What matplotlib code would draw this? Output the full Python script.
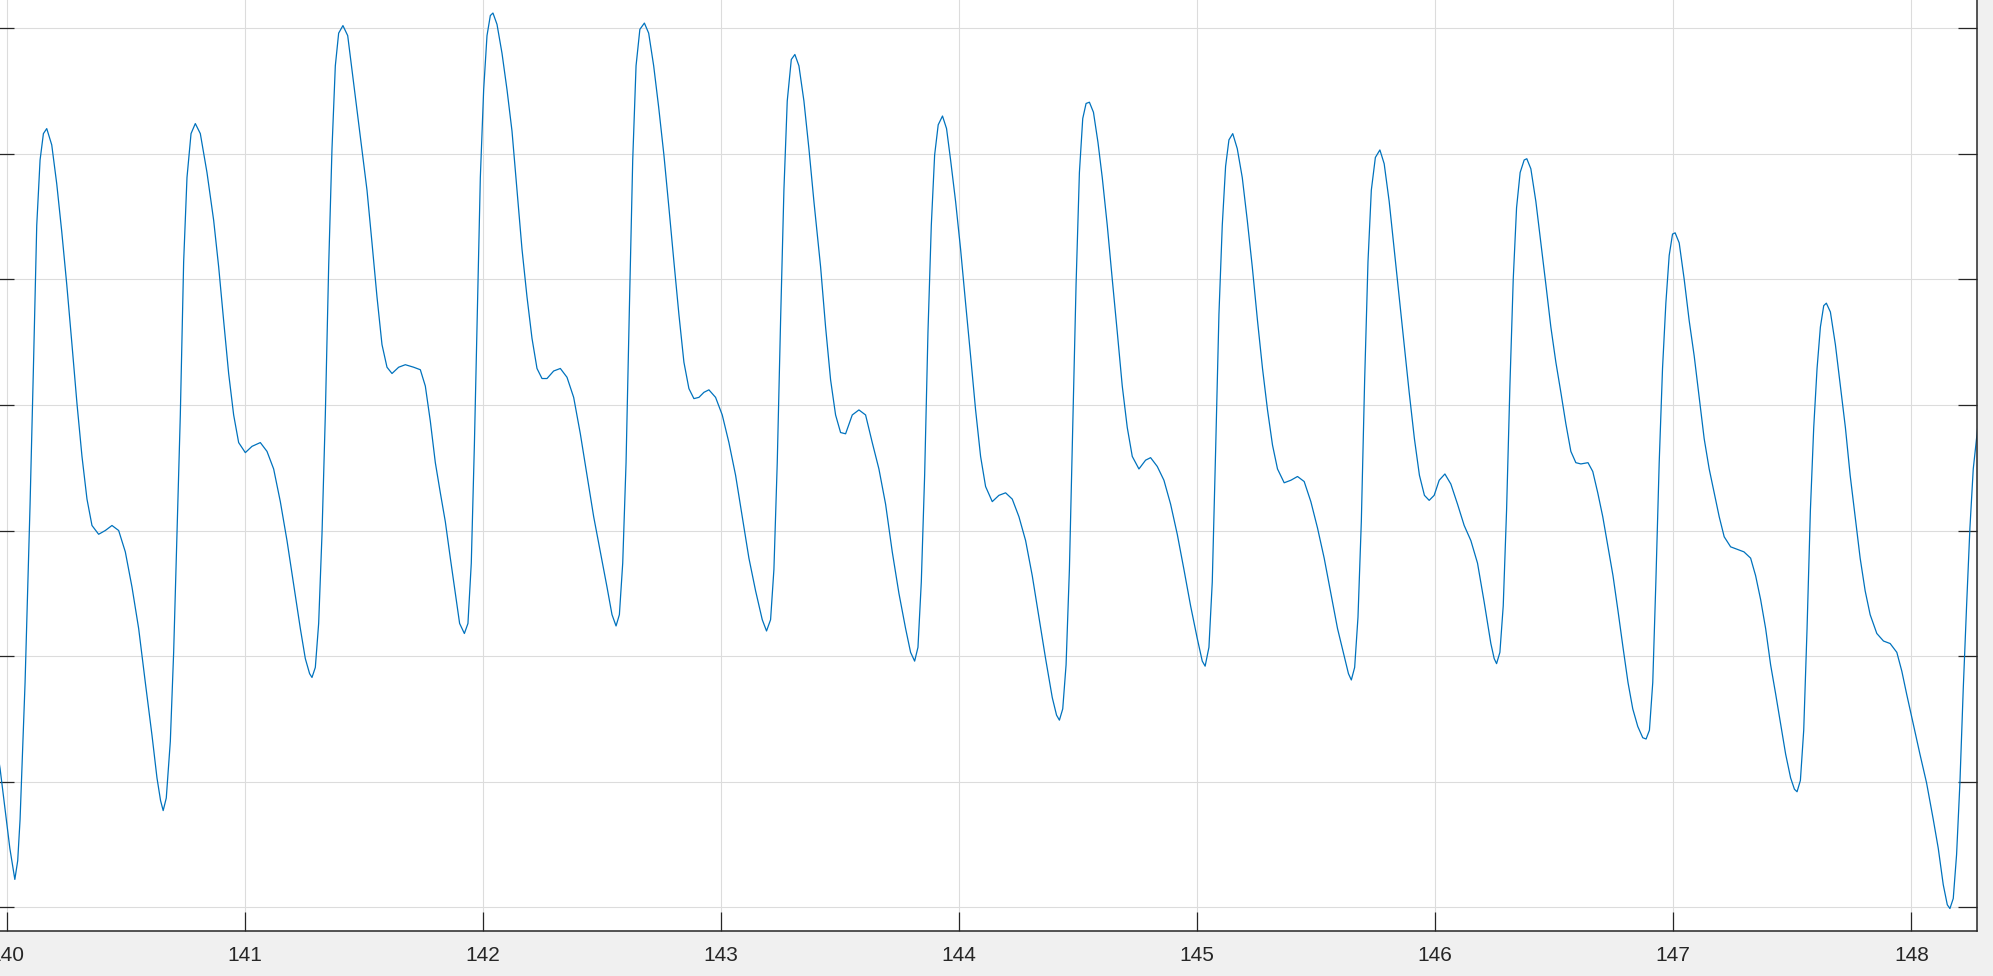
import matplotlib
matplotlib.use("Agg")
import matplotlib.pyplot as plt

# ---- data (time in s, amplitude in grid units) ----
time_s = [
    139.952, 139.973, 140.014, 140.035, 140.047, 140.057, 140.078, 140.099, 140.113, 140.127,
    140.141, 140.155, 140.169, 140.190, 140.211, 140.232, 140.253, 140.275, 140.296, 140.317,
    140.338, 140.359, 140.387, 140.415, 140.443, 140.471, 140.499, 140.527, 140.555, 140.583,
    140.611, 140.632, 140.647, 140.658, 140.671, 140.688, 140.702, 140.716, 140.730, 140.744,
    140.758, 140.775, 140.793, 140.814, 140.842, 140.870, 140.891, 140.912, 140.933, 140.954,
    140.975, 141.003, 141.031, 141.066, 141.094, 141.122, 141.150, 141.178, 141.206, 141.234,
    141.255, 141.273, 141.283, 141.297, 141.311, 141.325, 141.339, 141.353, 141.367, 141.381,
    141.395, 141.413, 141.433, 141.458, 141.486, 141.514, 141.535, 141.556, 141.577, 141.598,
    141.619, 141.647, 141.675, 141.710, 141.738, 141.759, 141.780, 141.801, 141.822, 141.843,
    141.864, 141.885, 141.903, 141.923, 141.938, 141.952, 141.965, 141.976, 141.990, 142.004,
    142.018, 142.032, 142.043, 142.060, 142.081, 142.102, 142.123, 142.144, 142.165, 142.186,
    142.207, 142.228, 142.249, 142.270, 142.298, 142.326, 142.354, 142.382, 142.410, 142.438,
    142.466, 142.494, 142.522, 142.543, 142.560, 142.574, 142.588, 142.602, 142.616, 142.630,
    142.644, 142.660, 142.679, 142.697, 142.718, 142.739, 142.761, 142.782, 142.803, 142.824,
    142.845, 142.866, 142.887, 142.908, 142.929, 142.950, 142.978, 143.006, 143.034, 143.062,
    143.090, 143.118, 143.146, 143.174, 143.192, 143.209, 143.223, 143.237, 143.251, 143.265,
    143.279, 143.296, 143.311, 143.328, 143.349, 143.370, 143.391, 143.419, 143.440, 143.461,
    143.482, 143.503, 143.524, 143.552, 143.580, 143.608, 143.636, 143.664, 143.692, 143.720,
    143.748, 143.776, 143.797, 143.814, 143.828, 143.842, 143.856, 143.870, 143.884, 143.898,
    143.913, 143.931, 143.948, 143.965, 143.986, 144.007, 144.028, 144.049, 144.070, 144.091,
    144.112, 144.140, 144.168, 144.196, 144.224, 144.252, 144.280, 144.308, 144.336, 144.364,
    144.392, 144.410, 144.422, 144.436, 144.450, 144.464, 144.478, 144.492, 144.506, 144.520,
    144.534, 144.548, 144.565, 144.584, 144.602, 144.623, 144.644, 144.665, 144.686, 144.707,
    144.728, 144.756, 144.784, 144.805, 144.833, 144.861, 144.889, 144.917, 144.945, 144.973,
    145.001, 145.022, 145.034, 145.050, 145.064, 145.078, 145.092, 145.106, 145.120, 145.134,
    145.150, 145.169, 145.190, 145.211, 145.232, 145.254, 145.275, 145.296, 145.317, 145.338,
    145.366, 145.394, 145.422, 145.450, 145.478, 145.506, 145.534, 145.562, 145.590, 145.618,
    145.636, 145.648, 145.662, 145.676, 145.690, 145.704, 145.718, 145.732, 145.749, 145.768,
    145.786, 145.807, 145.828, 145.849, 145.870, 145.891, 145.913, 145.934, 145.955, 145.975,
    145.996, 146.017, 146.041, 146.066, 146.094, 146.122, 146.150, 146.178, 146.206, 146.234,
    146.248, 146.258, 146.272, 146.286, 146.300, 146.314, 146.328, 146.342, 146.357, 146.374,
    146.385, 146.402, 146.423, 146.444, 146.465, 146.486, 146.507, 146.528, 146.549, 146.570,
    146.591, 146.612, 146.642, 146.662, 146.683, 146.704, 146.725, 146.747, 146.768, 146.789,
    146.810, 146.830, 146.851, 146.872, 146.886, 146.900, 146.914, 146.927, 146.941, 146.955,
    146.969, 146.983, 146.997, 147.008, 147.025, 147.046, 147.067, 147.088, 147.109, 147.130,
    147.151, 147.172, 147.193, 147.214, 147.241, 147.269, 147.297, 147.325, 147.346, 147.367,
    147.388, 147.409, 147.430, 147.451, 147.472, 147.493, 147.509, 147.520, 147.534, 147.548,
    147.562, 147.576, 147.590, 147.604, 147.618, 147.632, 147.643, 147.660, 147.681, 147.702,
    147.723, 147.743, 147.764, 147.785, 147.806, 147.827, 147.855, 147.883, 147.911, 147.939,
    147.960, 147.980, 148.008, 148.036, 148.064, 148.092, 148.113, 148.134, 148.151, 148.162,
    148.176, 148.190, 148.204, 148.218, 148.232, 148.246, 148.260, 148.276, 148.290,
]

amplitude = [
    1.35, 1.105, 0.47, 0.222, 0.37, 0.70, 1.79, 3.21, 4.29, 5.43,
    5.95, 6.16, 6.20, 6.07, 5.76, 5.38, 4.96, 4.48, 4.01, 3.59,
    3.25, 3.04, 2.97, 3.00, 3.04, 3.00, 2.83, 2.55, 2.22, 1.79,
    1.37, 1.03, 0.85, 0.77, 0.87, 1.32, 2.03, 2.97, 3.92, 5.14,
    5.81, 6.16, 6.24, 6.16, 5.85, 5.47, 5.10, 4.67, 4.25, 3.92,
    3.70, 3.62, 3.67, 3.70, 3.63, 3.49, 3.23, 2.92, 2.57, 2.22,
    1.98, 1.86, 1.83, 1.91, 2.26, 2.97, 3.92, 5.10, 6.04, 6.70,
    6.96, 7.02, 6.94, 6.56, 6.14, 5.71, 5.29, 4.86, 4.48, 4.30,
    4.25, 4.30, 4.32, 4.30, 4.28, 4.15, 3.87, 3.54, 3.30, 3.07,
    2.78, 2.50, 2.26, 2.18, 2.26, 2.74, 3.68, 4.62, 5.81, 6.51,
    6.94, 7.10, 7.12, 7.03, 6.80, 6.51, 6.18, 5.71, 5.24, 4.86,
    4.53, 4.29, 4.21, 4.21, 4.27, 4.29, 4.22, 4.06, 3.77, 3.44,
    3.11, 2.83, 2.55, 2.33, 2.24, 2.33, 2.74, 3.54, 4.77, 5.95,
    6.70, 6.99, 7.04, 6.96, 6.70, 6.37, 5.99, 5.57, 5.14, 4.72,
    4.34, 4.13, 4.05, 4.06, 4.10, 4.12, 4.06, 3.92, 3.70, 3.44,
    3.11, 2.78, 2.52, 2.29, 2.20, 2.29, 2.69, 3.54, 4.67, 5.71,
    6.42, 6.75, 6.79, 6.70, 6.42, 6.04, 5.62, 5.10, 4.62, 4.20,
    3.92, 3.78, 3.77, 3.92, 3.96, 3.92, 3.70, 3.49, 3.21, 2.83,
    2.50, 2.22, 2.03, 1.96, 2.07, 2.59, 3.44, 4.58, 5.43, 5.99,
    6.23, 6.30, 6.20, 5.95, 5.62, 5.24, 4.81, 4.39, 3.96, 3.59,
    3.35, 3.23, 3.28, 3.30, 3.25, 3.11, 2.92, 2.64, 2.31, 1.98,
    1.67, 1.53, 1.49, 1.58, 1.93, 2.69, 3.82, 4.96, 5.85, 6.28,
    6.40, 6.41, 6.33, 6.09, 5.81, 5.43, 5.00, 4.58, 4.15, 3.82,
    3.59, 3.49, 3.56, 3.58, 3.51, 3.40, 3.21, 2.97, 2.69, 2.40,
    2.14, 1.96, 1.92, 2.07, 2.59, 3.63, 4.72, 5.43, 5.90, 6.11,
    6.16, 6.04, 5.81, 5.47, 5.10, 4.67, 4.29, 3.96, 3.68, 3.49,
    3.38, 3.40, 3.43, 3.39, 3.23, 3.02, 2.78, 2.50, 2.22, 2.00,
    1.86, 1.81, 1.91, 2.31, 3.07, 4.20, 5.14, 5.71, 5.97, 6.03,
    5.92, 5.62, 5.24, 4.86, 4.48, 4.10, 3.73, 3.44, 3.28, 3.24,
    3.28, 3.40, 3.45, 3.37, 3.21, 3.04, 2.92, 2.74, 2.43, 2.10,
    1.98, 1.94, 2.03, 2.40, 3.16, 4.15, 5.00, 5.57, 5.85, 5.95,
    5.96, 5.88, 5.62, 5.29, 4.96, 4.62, 4.34, 4.10, 3.85, 3.63,
    3.54, 3.53, 3.54, 3.47, 3.30, 3.11, 2.88, 2.64, 2.36, 2.07,
    1.79, 1.58, 1.44, 1.35, 1.34, 1.41, 1.79, 2.59, 3.54, 4.29,
    4.81, 5.19, 5.36, 5.37, 5.29, 5.00, 4.67, 4.39, 4.06, 3.73,
    3.49, 3.30, 3.11, 2.95, 2.87, 2.85, 2.83, 2.78, 2.64, 2.45,
    2.22, 1.93, 1.70, 1.46, 1.22, 1.03, 0.94, 0.92, 1.01, 1.41,
    2.22, 3.16, 3.82, 4.29, 4.62, 4.79, 4.81, 4.74, 4.48, 4.15,
    3.82, 3.44, 3.11, 2.78, 2.52, 2.33, 2.18, 2.12, 2.10, 2.03,
    1.88, 1.70, 1.46, 1.22, 0.99, 0.70, 0.47, 0.18, 0.02, -0.01,
    0.07, 0.42, 0.99, 1.74, 2.40, 3.02, 3.49, 3.77, 4.05,
]

x_ticks = [140, 141, 142, 143, 144, 145, 146, 147, 148]
x_tick_labels = ["140", "141", "142", "143", "144", "145", "146", "147", "148"]
y_ticks = [0, 1, 2, 3, 4, 5, 6, 7]

# ---- figure ----
W, H, DPI = 1993, 976, 100
fig = plt.figure(figsize=(W / DPI, H / DPI), dpi=DPI, facecolor="#F0F0F0")
plt.rcParams["font.family"] = ["Liberation Sans", "DejaVu Sans"]

# axes box in pixels (extends slightly past left/top of the canvas, as in the reference)
ax_left_px, ax_right_px = -5.0, 1977.3
ax_bottom_px, ax_top_px = 931.0, -20.0
ax = fig.add_axes([ax_left_px / W, 1 - ax_bottom_px / H,
                   (ax_right_px - ax_left_px) / W, (ax_bottom_px - ax_top_px) / H])
ax.set_facecolor("white")

ax.plot(time_s, amplitude, color="#0072BD", linewidth=0.9, solid_joinstyle="round")

ax.set_xlim(139.9517, 148.277)
ax.set_ylim(-0.1887, 7.383)
ax.set_xticks(x_ticks)
ax.set_xticklabels(x_tick_labels)
ax.set_yticks(y_ticks)

ax.grid(True, color="#DCDCDC", linewidth=0.8)
ax.set_axisbelow(True)

for s in ax.spines.values():
    s.set_color("#262626")
    s.set_linewidth(1.1)

ax.tick_params(axis="both", direction="in", length=13.7, width=0.9, color="#262626",
               top=True, right=True, labelsize=15, labelcolor="#262626")
ax.tick_params(axis="y", labelleft=False)
ax.tick_params(axis="x", pad=11)

fig.savefig("out.png", dpi=DPI, facecolor=fig.get_facecolor())
